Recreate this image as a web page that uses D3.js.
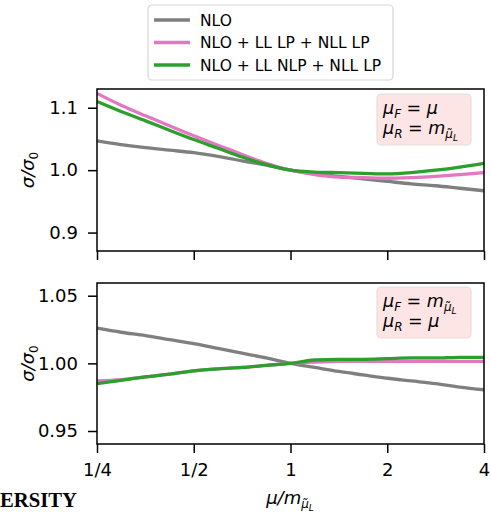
<!DOCTYPE html>
<html>
<head>
<meta charset="utf-8">
<script src="https://cdn.jsdelivr.net/npm/d3@7"></script>
<style>
  body { margin: 0; background: #fff; }
  svg { display: block; }
  text { font-family: "DejaVu Sans", sans-serif; fill: #000; }
</style>
</head>
<body>
<svg id="chart" width="491" height="512"></svg>
<script>
// mu / m_slepton (log2 spaced)
const muRatio = [0.25, 0.297, 0.354, 0.420, 0.5, 0.595, 0.707, 0.841, 1,
                 1.189, 1.414, 1.682, 2, 2.378, 2.828, 3.364, 4];

// oben: mu_F = mu, mu_R = m
const topNLO   = [1.047, 1.041, 1.036, 1.032, 1.028, 1.022, 1.015, 1.008, 1.000,
                  0.994, 0.990, 0.986, 0.982, 0.978, 0.975, 0.971, 0.967];
const topLLLP  = [1.123, 1.104, 1.087, 1.071, 1.055, 1.040, 1.025, 1.011, 1.000,
                  0.993, 0.989, 0.988, 0.987, 0.988, 0.990, 0.993, 0.996];
const topLLNLP = [1.110, 1.094, 1.079, 1.064, 1.049, 1.035, 1.021, 1.009, 1.000,
                  0.997, 0.996, 0.995, 0.994, 0.996, 1.000, 1.005, 1.011];

// unten: mu_F = m, mu_R = mu
const botNLO   = [1.026, 1.023, 1.0205, 1.0175, 1.0145, 1.011, 1.0075, 1.004, 1.000,
                  0.997, 0.994, 0.9915, 0.989, 0.987, 0.985, 0.9825, 0.9805];
const botLLLP  = [0.987, 0.988, 0.990, 0.992, 0.9945, 0.996, 0.997, 0.9985, 1.000,
                  1.001, 1.0015, 1.0015, 1.0015, 1.0015, 1.0015, 1.0015, 1.0015];
const botLLNLP = [0.985, 0.9875, 0.990, 0.992, 0.9945, 0.996, 0.997, 0.9985, 1.000,
                  1.0025, 1.003, 1.003, 1.0035, 1.004, 1.004, 1.0045, 1.0045];

const seriesNames = ['NLO', 'NLO + LL LP + NLL LP', 'NLO + LL NLP + NLL LP'];
const seriesColors = ['#7f7f7f', '#e377c2', '#2ca02c'];

const xTicks = [0.25, 0.5, 1, 2, 4];
const xTickLabels = ['1/4', '1/2', '1', '2', '4'];
const topYTicks = [0.9, 1.0, 1.1];
const botYTicks = [0.95, 1.00, 1.05];

const svg = d3.select('#chart');
const left = 97, right = 484;
const fs = 18;

const x = d3.scaleLog().base(2).domain([0.25, 4]).range([left, right]);

const panels = [
  { top: 89, bottom: 251, domain: [0.8705, 1.1300], ticks: topYTicks, fmt: d3.format('.1f'),
    data: [topNLO, topLLLP, topLLNLP], showX: false },
  { top: 283, bottom: 444, domain: [0.9404, 1.0594], ticks: botYTicks, fmt: d3.format('.2f'),
    data: [botNLO, botLLLP, botLLNLP], showX: true }
];

// mathtext-artige Zeile: mu_X = rhs
function mathLine(t, xPos, yPos, sub, rhsM) {
  const tx = t.append('text').attr('x', xPos).attr('y', yPos).attr('font-size', 17.5);
  tx.append('tspan').attr('font-style', 'italic').text('μ');
  tx.append('tspan').attr('font-style', 'italic').attr('font-size', 12).attr('dy', 4).text(sub);
  tx.append('tspan').attr('dy', -4).text(' = ');
  if (rhsM) {
    tx.append('tspan').attr('font-style', 'italic').text('m');
    tx.append('tspan').attr('font-style', 'italic').attr('font-size', 12).attr('dy', 4).text('μ\u0303');
    tx.append('tspan').attr('font-style', 'italic').attr('font-size', 9).attr('dy', 3).text('L');
  } else {
    tx.append('tspan').attr('font-style', 'italic').text('μ');
  }
}

panels.forEach((p, pi) => {
  const y = d3.scaleLinear().domain(p.domain).range([p.bottom, p.top]);
  const g = svg.append('g');

  const line = d3.line().x((d, i) => x(muRatio[i])).y(d => y(d)).curve(d3.curveMonotoneX);
  p.data.forEach((vals, si) => {
    g.append('path').datum(vals)
      .attr('d', line)
      .attr('fill', 'none')
      .attr('stroke', seriesColors[si])
      .attr('stroke-width', 3.3)
      .attr('stroke-linejoin', 'round');
  });

  // Spines
  g.append('rect')
    .attr('x', left).attr('y', p.top)
    .attr('width', right - left).attr('height', p.bottom - p.top)
    .attr('fill', 'none').attr('stroke', '#000').attr('stroke-width', 1.5);

  const yAxis = g.append('g').attr('transform', `translate(${left},0)`)
    .call(d3.axisLeft(y).tickValues(p.ticks).tickFormat(p.fmt).tickSize(9).tickSizeOuter(0).tickPadding(10));
  yAxis.select('.domain').remove();
  yAxis.selectAll('line').attr('stroke-width', 1.5);
  yAxis.selectAll('text').attr('font-size', fs).attr('font-family', '"DejaVu Sans", sans-serif');

  const xAxis = g.append('g').attr('transform', `translate(0,${p.bottom})`)
    .call(d3.axisBottom(x).tickValues(xTicks)
      .tickFormat((d, i) => p.showX ? xTickLabels[i] : '')
      .tickSize(9).tickSizeOuter(0).tickPadding(10));
  xAxis.select('.domain').remove();
  xAxis.selectAll('line').attr('stroke-width', 1.5);
  xAxis.selectAll('text').attr('font-size', fs).attr('font-family', '"DejaVu Sans", sans-serif');

  // y-Label sigma/sigma_0
  const cy = (p.top + p.bottom) / 2;
  const yl = g.append('text')
    .attr('transform', `translate(34,${cy}) rotate(-90)`)
    .attr('text-anchor', 'middle').attr('font-size', fs);
  yl.append('tspan').attr('font-style', 'italic').text('σ/σ');
  yl.append('tspan').attr('font-size', 12).attr('dy', 4).text('0');

  // Annotation
  const bx = 377, by = pi === 0 ? 94 : 287;
  g.append('rect')
    .attr('x', bx).attr('y', by).attr('width', 94).attr('height', 51).attr('rx', 4)
    .attr('fill', '#fde5e6').attr('stroke', '#e8dcdc').attr('stroke-width', 1.2);
  if (pi === 0) {
    mathLine(g, 383, by + 20, 'F', false);
    mathLine(g, 383, by + 40, 'R', true);
  } else {
    mathLine(g, 383, by + 20, 'F', true);
    mathLine(g, 383, by + 40, 'R', false);
  }
});

// x-Label
const xl = svg.append('text').attr('x', 290).attr('y', 504).attr('text-anchor', 'middle').attr('font-size', fs);
xl.append('tspan').attr('font-style', 'italic').text('μ/m');
xl.append('tspan').attr('font-style', 'italic').attr('font-size', 12).attr('dy', 4).text('μ\u0303');
xl.append('tspan').attr('font-style', 'italic').attr('font-size', 9).attr('dy', 3).text('L');

// Legende
const lg = svg.append('g');
lg.append('rect').attr('x', 148).attr('y', 5).attr('width', 245).attr('height', 75).attr('rx', 4)
  .attr('fill', '#fff').attr('stroke', '#d6d6d6').attr('stroke-width', 1.2);
seriesNames.forEach((name, i) => {
  const ly = 20 + i * 22.5;
  lg.append('line').attr('x1', 154).attr('x2', 190).attr('y1', ly).attr('y2', ly)
    .attr('stroke', seriesColors[i]).attr('stroke-width', 3.3);
  lg.append('text').attr('x', 200).attr('y', ly).attr('dy', '0.36em').attr('font-size', 15.5).text(name);
});

// abgeschnittener Text unten links (aus dem Quelldokument)
svg.append('text').attr('x', 0).attr('y', 507)
  .style('font-family', '"Liberation Serif", "Times New Roman", serif').style('font-weight', 'bold')
  .attr('font-size', 22).attr('textLength', 77).attr('lengthAdjust', 'spacingAndGlyphs')
  .text('ERSITY');
</script>
</body>
</html>
